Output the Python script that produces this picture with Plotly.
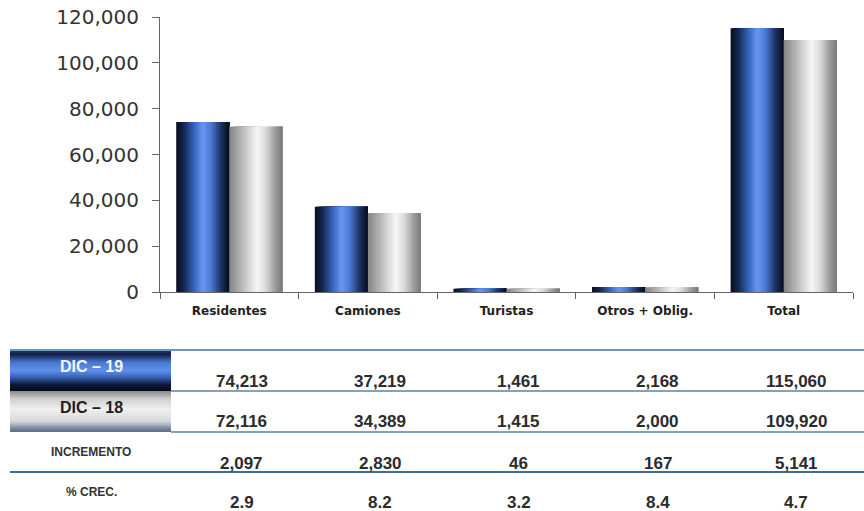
import plotly.graph_objects as go

# ---- data ----
categories = ["Residentes", "Camiones", "Turistas", "Otros + Oblig.", "Total"]
dic19 = [74213, 37219, 1461, 2168, 115060]
dic18 = [72116, 34389, 1415, 2000, 109920]
incremento = [2097, 2830, 46, 167, 5141]
pct_crec = [2.9, 8.2, 3.2, 8.4, 4.7]
row_labels = ["DIC – 19", "DIC – 18", "INCREMENTO", "% CREC."]
y_ticks = [0, 20000, 40000, 60000, 80000, 100000, 120000]

# ---- page geometry (pixels) ----
W, H = 864, 511
L, R, T, B = 160, 853, 17, 292


def px(x):
    return (x - L) / (R - L)


def py(y):
    return (B - y) / (B - T)


def hex2rgb(h):
    h = h.lstrip("#")
    return tuple(int(h[i:i + 2], 16) for i in (0, 2, 4))


def ramp(stops, t):
    for (p0, c0), (p1, c1) in zip(stops, stops[1:]):
        if p0 <= t <= p1:
            f = (t - p0) / (p1 - p0) if p1 > p0 else 0
            a, b = hex2rgb(c0), hex2rgb(c1)
            return "rgb(%d,%d,%d)" % tuple(round(a[k] + (b[k] - a[k]) * f) for k in range(3))
    return stops[-1][1]


blue_stops = [(0, "#070d1c"), (0.14, "#142650"), (0.33, "#3562b8"), (0.5, "#6798f2"),
              (0.66, "#4a78d0"), (0.84, "#1c3366"), (1, "#060c1a")]
gray_stops = [(0, "#848484"), (0.22, "#b4b4b4"), (0.52, "#f6f6f6"), (0.68, "#dcdcdc"),
              (0.88, "#979797"), (1, "#7a7a7a")]

fig = go.Figure()

# cylinder-like bars: each bar is painted as a stack of overlapping vertical strips
BAR_W = 0.383
N = 32
for values, start, stops in ((dic19, -BAR_W, blue_stops), (dic18, 0.0, gray_stops)):
    dw = BAR_W / N
    for i in range(N):
        fig.add_trace(go.Bar(
            x=categories, y=values,
            offset=start + i * dw, width=BAR_W - i * dw,
            marker=dict(color=ramp(stops, (i + 0.5) / N), line=dict(width=0)),
            showlegend=False, hoverinfo="skip",
        ))

shapes = []
annotations = []

# table header cells with vertical gradients
hdr_blue = [(0, "#2a3e78"), (0.1, "#101c42"), (0.3, "#4a78d0"), (0.5, "#5f90ea"),
            (0.66, "#3a64b8"), (0.84, "#0e1a3a"), (1, "#050a18")]
hdr_gray = [(0, "#8a8a8a"), (0.2, "#d0d0d0"), (0.45, "#f0f0f0"), (0.74, "#d8d8dc"),
            (0.88, "#8a96a8"), (1, "#5a6a84")]
M = 28
for (y0, y1, stops) in ((350, 391, hdr_blue), (391, 432, hdr_gray)):
    dh = (y1 - y0) / M
    for i in range(M):
        shapes.append(dict(type="rect", xref="paper", yref="paper",
                           x0=px(10), x1=px(171), y0=py(y0 + i * dh), y1=py(y1),
                           fillcolor=ramp(stops, (i + 0.5) / M), line=dict(width=0),
                           layer="above"))

# table rules
for (x0, yy, col, wd) in ((10, 350, "#6a97bb", 2), (171, 391, "#5583a8", 1.5),
                          (171, 432, "#5583a8", 1.5), (10, 472, "#3f6d92", 2)):
    shapes.append(dict(type="line", xref="paper", yref="paper",
                       x0=px(x0), x1=px(W), y0=py(yy), y1=py(yy),
                       line=dict(color=col, width=wd), layer="above"))

# row labels
label_y = [366, 407, 452, 492]
label_style = [
    dict(size=16, color="#f4f6ff", family="Liberation Sans, Arial"),
    dict(size=16, color="#1e1e1e", family="Liberation Sans, Arial"),
    dict(size=12, color="#333333", family="Liberation Sans Narrow, Arial Narrow, Liberation Sans"),
    dict(size=12, color="#333333", family="Liberation Sans Narrow, Arial Narrow, Liberation Sans"),
]
for txt, yy, st in zip(row_labels, label_y, label_style):
    annotations.append(dict(text="<b>%s</b>" % txt, xref="paper", yref="paper",
                            x=px(91), y=py(yy), showarrow=False, font=st,
                            xanchor="center", yanchor="middle"))

# table values
rows = [
    ["{:,}".format(v) for v in dic19],
    ["{:,}".format(v) for v in dic18],
    ["{:,}".format(v) for v in incremento],
    ["{:.1f}".format(v) for v in pct_crec],
]
value_y = [381, 421, 463, 503]
for row, yy in zip(rows, value_y):
    for i, txt in enumerate(row):
        annotations.append(dict(text="<b>%s</b>" % txt, xref="x", yref="paper",
                                x=i + 0.09, y=py(yy), showarrow=False,
                                font=dict(size=17, color="#2b2b2b",
                                          family="Liberation Sans Narrow, Arial Narrow, Liberation Sans"),
                                xanchor="center", yanchor="middle"))

fig.update_layout(
    width=W, height=H,
    margin=dict(l=L, r=W - R, t=T, b=H - B, pad=0, autoexpand=False),
    paper_bgcolor="white", plot_bgcolor="white",
    barmode="overlay",
    showlegend=False,
    shapes=shapes,
    annotations=annotations,
    xaxis=dict(
        type="category", categoryorder="array", categoryarray=categories,
        range=[-0.5, 4.5], tickson="boundaries", ticks="outside", ticklen=6,
        tickcolor="#666666", showline=True, linecolor="#666666", linewidth=1,
        showgrid=False, zeroline=False, automargin=False, ticklabelstandoff=8,
        tickfont=dict(family="Verdana, DejaVu Sans", size=12, color="#222222", weight="bold"),
    ),
    yaxis=dict(
        range=[0, 120000], tickvals=y_ticks, tickformat=",d",
        ticks="outside", ticklen=7, tickcolor="#666666",
        showline=True, linecolor="#666666", linewidth=1, automargin=False,
        showgrid=False, zeroline=False, ticklabelstandoff=9,
        tickfont=dict(family="Verdana, DejaVu Sans", size=20, color="#333333"),
    ),
)

fig.write_html("out.html")
